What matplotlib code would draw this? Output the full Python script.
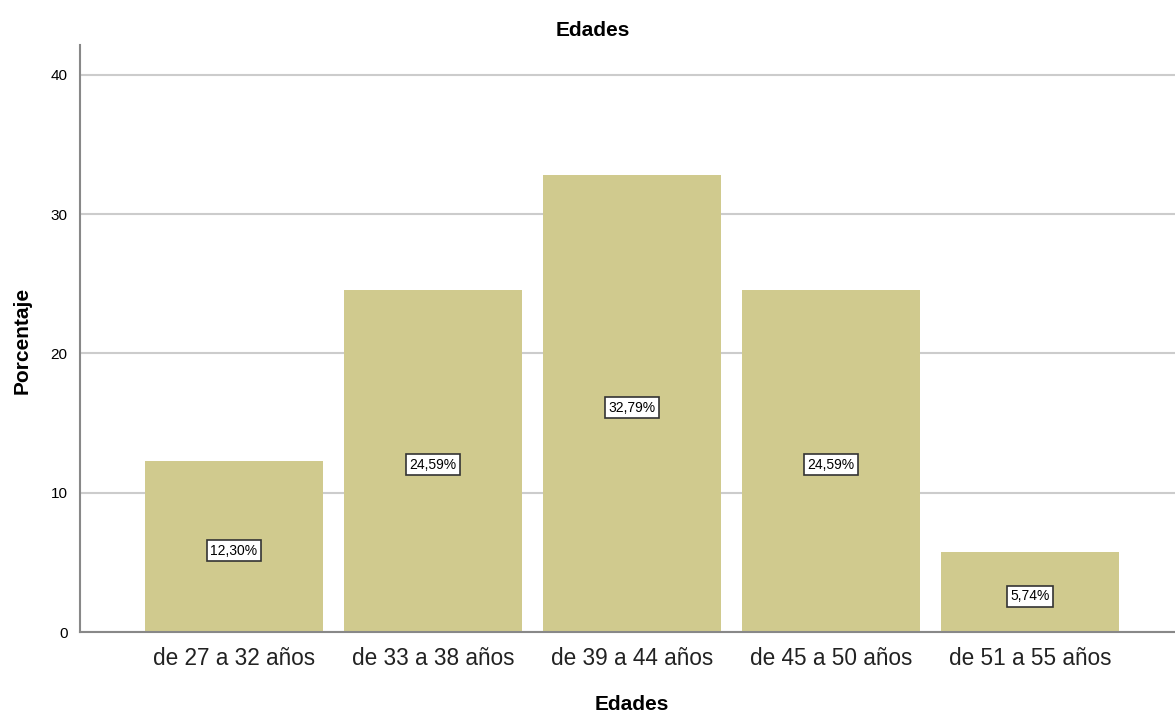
import matplotlib
matplotlib.use('Agg')
import matplotlib.pyplot as plt

categorias = ["de 27 a 32 años", "de 33 a 38 años", "de 39 a 44 años", "de 45 a 50 años", "de 51 a 55 años"]
porcentajes = [12.30, 24.59, 32.79, 24.59, 5.74]
etiquetas = ["12,30%", "24,59%", "32,79%", "24,59%", "5,74%"]

plt.rcParams['font.family'] = ['Liberation Sans', 'DejaVu Sans']

fig = plt.figure(figsize=(11.75, 7.13), dpi=100)
ax = fig.add_axes([80/1175, 81/713, 1 - 80/1175, (632-45)/713])

x = list(range(len(categorias)))
ax.bar(x, porcentajes, width=0.895, color='#D0CA8E', zorder=2)

# etiquetas en el centro de cada barra
for xi, v, t in zip(x, porcentajes, etiquetas):
    ax.annotate(t, (xi, v/2), xytext=(0, -3), textcoords='offset points',
                ha='center', va='center', fontsize=10, zorder=3,
                bbox=dict(boxstyle='square,pad=0.25', facecolor='white', edgecolor='#333333', linewidth=1.2))

ax.set_xlim(-0.774, 4.729)
ax.set_ylim(0, 42.15)
ax.set_yticks([0, 10, 20, 30, 40])
ax.set_xticks(x)
ax.set_xticklabels(categorias, fontsize=16.3, color='#222222')
ax.tick_params(axis='y', length=0, labelsize=11, pad=9)
ax.tick_params(axis='x', length=0, pad=11)
ax.yaxis.grid(True, color='#cccccc', linewidth=1.5, zorder=0)
ax.set_axisbelow(True)

for s in ['top', 'right']:
    ax.spines[s].set_visible(False)
ax.spines['left'].set_color('#888888')
ax.spines['bottom'].set_color('#888888')
ax.spines['left'].set_linewidth(1.5)
ax.spines['bottom'].set_linewidth(1.5)

fig.text(593/1175, 1 - 30/713, "Edades", ha='center', va='center', fontsize=15, fontweight='bold')
fig.text(22/1175, 1 - 340/713, "Porcentaje", ha='center', va='center', rotation=90, fontsize=15, fontweight='bold')
fig.text(632/1175, 1 - 704/713, "Edades", ha='center', va='center', fontsize=15, fontweight='bold')

plt.savefig("out.png", dpi=100)
